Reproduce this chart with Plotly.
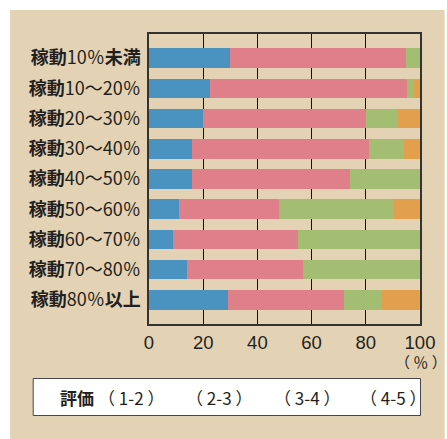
import plotly.graph_objects as go

# Operating-rate bands (rows, top to bottom)
categories = [
    "<b>稼動</b>10％<b>未満</b>",
    "<b>稼動</b>10～20％",
    "<b>稼動</b>20～30％",
    "<b>稼動</b>30～40％",
    "<b>稼動</b>40～50％",
    "<b>稼動</b>50～60％",
    "<b>稼動</b>60～70％",
    "<b>稼動</b>70～80％",
    "<b>稼動</b>80％<b>以上</b>",
]

# Share (%) of each rating band per row
rating_1_2 = [30, 22.4, 20, 16, 16, 11, 9, 14, 29]
rating_2_3 = [65, 72.8, 60, 65, 58, 37, 46, 43, 43]
rating_3_4 = [5, 2.4, 12, 13, 26, 42, 45, 43, 14]
rating_4_5 = [0, 2.4, 8, 6, 0, 10, 0, 0, 14]

series_names = ["（ 1-2 ）", "（ 2-3 ）", "（ 3-4 ）", "（ 4-5 ）"]
series_values = [rating_1_2, rating_2_3, rating_3_4, rating_4_5]
series_colors = ["#4A93C1", "#DE7F8A", "#A3BE73", "#E3A04C"]

x_ticks = [0, 20, 40, 60, 80, 100]

FONT = "Liberation Sans, Noto Sans CJK JP, sans-serif"
CJK_FONT = "Noto Sans CJK JP"
TEXT = "#231F20"
BEIGE = "#E4D2B4"

fig = go.Figure()
for name, vals, col in zip(series_names, series_values, series_colors):
    fig.add_trace(go.Bar(
        y=categories, x=vals, name=name, orientation="h",
        marker=dict(color=col, line=dict(width=0)),
        width=0.65, showlegend=False,
    ))

W, H = 447, 439
ml, mr, mt, mb = 149, 23, 34, 115
pw, ph = W - ml - mr, H - mt - mb


def px_x(p):
    return (p - ml) / pw


def px_y(p):
    return (H - mb - p) / ph


shapes = [
    # beige panel
    dict(type="rect", xref="paper", yref="paper", layer="below",
         x0=px_x(8), x1=px_x(W + 2), y0=px_y(H + 2), y1=px_y(10),
         fillcolor=BEIGE, line=dict(width=0)),
    # legend box
    dict(type="rect", xref="paper", yref="paper",
         x0=px_x(31.5), x1=px_x(424.5), y0=px_y(415.5), y1=px_y(378.5),
         fillcolor="white", line=dict(color="#4A4546", width=1)),
]


def label(text, cx, cy, size, family=FONT):
    return dict(text=text, x=px_x(cx), y=px_y(cy), xref="paper", yref="paper",
                xanchor="center", yanchor="middle", showarrow=False,
                font=dict(family=family, size=size, color=TEXT))


annotations = [
    label("<b>評価</b>", 75.5, 397.5, 17, CJK_FONT),
    label("（ ％ ）", 425, 361, 15, CJK_FONT),
]
for name, cx in zip(series_names, [130.5, 220, 309, 396.5]):
    annotations.append(label(name, cx, 397.5, 17, CJK_FONT))

fig.update_layout(
    width=W, height=H,
    margin=dict(l=ml, r=mr, t=mt, b=mb, pad=0),
    barmode="stack",
    paper_bgcolor="white",
    plot_bgcolor="white",
    font=dict(family=FONT, size=18, color=TEXT),
    shapes=shapes,
    annotations=annotations,
    xaxis=dict(
        range=[0, 100], tickvals=x_ticks, ticks="",
        showgrid=True, gridcolor="#111", gridwidth=1,
        showline=True, linecolor="#333", linewidth=1.5, mirror=True,
        zeroline=False, tickfont=dict(size=18.5), ticklabelstandoff=1,
    ),
    yaxis=dict(
        range=[8.8, -0.8], ticks="", showgrid=False,
        showline=True, linecolor="#333", linewidth=1.5, mirror=True,
        tickfont=dict(size=18, family=CJK_FONT), ticklabelstandoff=3,
    ),
)

fig.write_html("out.html")
